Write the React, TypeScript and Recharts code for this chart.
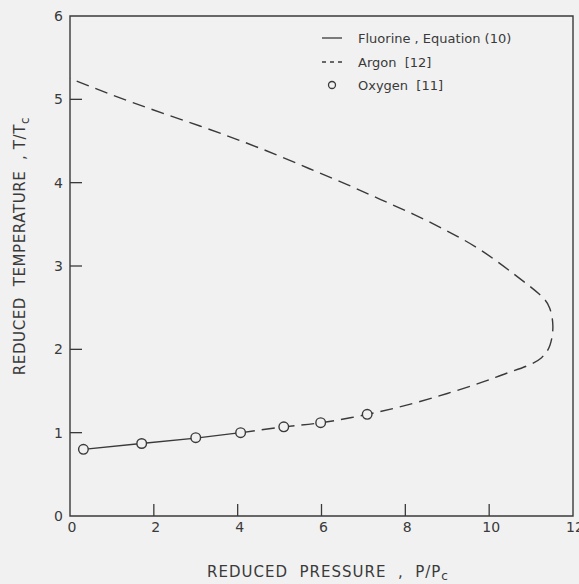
import React from "react";
import {
  ComposedChart,
  Line,
  Scatter,
  XAxis,
  YAxis,
  ReferenceArea,
} from "recharts";

// (reduced pressure P/Pc, reduced temperature T/Tc)
const fluorineP = [0.32, 1.7, 3.0, 4.07];
const fluorineT = [0.8, 0.87, 0.935, 1.0];

const argonP = [4.1, 5.1, 6.0, 7.1, 8.1, 9.0, 9.8, 10.4, 10.9, 11.25, 11.45, 11.52, 11.44, 11.2, 10.6, 9.8, 9.0, 8.2, 7.4, 6.6, 5.7, 4.6, 3.1, 1.5, 0];
const argonT = [1.0, 1.07, 1.12, 1.22, 1.34, 1.47, 1.6, 1.71, 1.8, 1.9, 2.05, 2.28, 2.5, 2.66, 2.9, 3.19, 3.42, 3.62, 3.8, 3.98, 4.17, 4.4, 4.68, 4.96, 5.25];

const oxygenP = [0.32, 1.71, 3.0, 4.07, 5.1, 5.98, 7.09];
const oxygenT = [0.8, 0.87, 0.94, 1.0, 1.07, 1.12, 1.22];

const xTicks = [0, 2, 4, 6, 8, 10, 12];
const yTicks = [0, 1, 2, 3, 4, 5, 6];

const toPoints = (xs: number[], ys: number[]) => xs.map((x, i) => ({ x, y: ys[i] }));

const fluorine = toPoints(fluorineP, fluorineT);
const argon = toPoints(argonP, argonT);
const oxygen = toPoints(oxygenP, oxygenT);

const INK = "#3a3a3a";
const BG = "#f1f1f1";
const FONT = "'DejaVu Sans', sans-serif";

const XTick = (props: any) => {
  const { x, y, payload } = props;
  const v = payload.value;
  return (
    <g>
      {v !== 0 && v !== 12 && <line x1={x} x2={x} y1={y} y2={y - 12} stroke={INK} strokeWidth={1.3} />}
      <text x={x + 2} y={y + 16} textAnchor="middle" fontSize={14} fill={INK} fontFamily={FONT}>
        {v}
      </text>
    </g>
  );
};

const YTick = (props: any) => {
  const { x, y, payload } = props;
  const v = payload.value;
  return (
    <g>
      {v !== 0 && v !== 6 && <line x1={x} x2={x + 12} y1={y} y2={y} stroke={INK} strokeWidth={1.3} />}
      <text x={x - 7} y={y + 5} textAnchor="end" fontSize={14} fill={INK} fontFamily={FONT}>
        {v}
      </text>
    </g>
  );
};

const XLabel = () => (
  <text
    x={328}
    y={577}
    textAnchor="middle"
    fontSize={15}
    fill={INK}
    fontFamily={FONT}
    letterSpacing={1}
    style={{ whiteSpace: "pre" }}
  >
    {"REDUCED  PRESSURE  ,  P/P"}
    <tspan fontSize={12} dy={3}>c</tspan>
  </text>
);

const YLabel = () => (
  <text
    x={25}
    y={246}
    transform="rotate(-90 25 246)"
    textAnchor="middle"
    fontSize={15}
    fill={INK}
    fontFamily={FONT}
    letterSpacing={0.6}
    style={{ whiteSpace: "pre" }}
  >
    {"REDUCED  TEMPERATURE  , T/T"}
    <tspan fontSize={12} dy={4}>c</tspan>
  </text>
);

const LegendBox = () => (
  <svg width={220} height={70} style={{ position: "absolute", left: 316, top: 26, overflow: "visible" }}>
    <line x1={6} x2={26} y1={12} y2={12} stroke={INK} strokeWidth={1.3} />
    <text x={42} y={17} fontSize={13} fill={INK} fontFamily={FONT} style={{ whiteSpace: "pre" }}>
      Fluorine , Equation (10)
    </text>
    <line x1={6} x2={26} y1={36} y2={36} stroke={INK} strokeWidth={1.3} strokeDasharray="4 4" />
    <text x={42} y={41} fontSize={13} fill={INK} fontFamily={FONT} style={{ whiteSpace: "pre" }}>
      {"Argon  [12]"}
    </text>
    <circle cx={16} cy={59} r={3.5} fill="none" stroke={INK} strokeWidth={1.3} />
    <text x={42} y={64} fontSize={13} fill={INK} fontFamily={FONT} style={{ whiteSpace: "pre" }}>
      {"Oxygen  [11]"}
    </text>
  </svg>
);

export default function App() {
  return (
    <div style={{ position: "absolute", left: 0, top: 0, width: 579, height: 584, background: BG }}>
      <ComposedChart width={579} height={584} margin={{ top: 16, right: 6, bottom: 0, left: 0 }}>
        <XAxis
          type="number"
          dataKey="x"
          domain={[0, 12]}
          ticks={xTicks}
          interval={0}
          allowDataOverflow
          axisLine={false}
          tickLine={false}
          tickSize={0}
          tickMargin={0}
          tick={<XTick />}
          height={68}
          label={<XLabel />}
        />
        <YAxis
          type="number"
          dataKey="y"
          domain={[0, 6]}
          ticks={yTicks}
          interval={0}
          allowDataOverflow
          axisLine={false}
          tickLine={false}
          tickSize={0}
          tickMargin={0}
          tick={<YTick />}
          width={70}
          label={<YLabel />}
        />
        <ReferenceArea x1={0} x2={12} y1={0} y2={6} fill="none" stroke={INK} strokeWidth={1.4} ifOverflow="visible" />
        <Line
          data={argon}
          dataKey="y"
          type="natural"
          stroke={INK}
          strokeWidth={1.4}
          strokeDasharray="13 7"
          dot={false}
          isAnimationActive={false}
        />
        <Line
          data={fluorine}
          dataKey="y"
          type="linear"
          stroke={INK}
          strokeWidth={1.4}
          dot={false}
          isAnimationActive={false}
        />
        <Scatter
          data={oxygen}
          dataKey="y"
          isAnimationActive={false}
          shape={(p: any) => (
            <circle cx={p.cx} cy={p.cy} r={4.8} fill={BG} stroke={INK} strokeWidth={1.4} />
          )}
        />
      </ComposedChart>
      <LegendBox />
    </div>
  );
}
